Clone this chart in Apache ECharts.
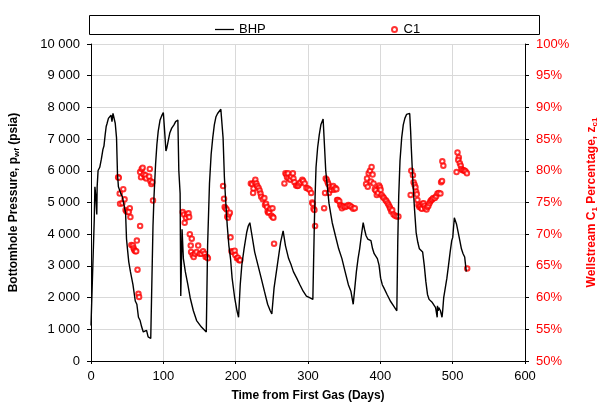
<!DOCTYPE html>
<html><head><meta charset="utf-8">
<script src="https://cdn.jsdelivr.net/npm/echarts@6/dist/echarts.min.js"></script>
<style>html,body{margin:0;padding:0;background:#fff}#c{width:607px;height:407px}</style>
</head><body><div id="c"></div>
<script>
// BHP (psia) vs time (days)
const bhpDays = [0,2.7,4.5,5.4,6.7,8.0,8.5,9.8,12.1,14.3,16.5,17.9,19.6,21.0,22.3,24.1,26.3,27.7,29.0,30.4,32.1,33.5,35.3,36.6,37.9,41.1,43.3,45.5,47.8,49.1,50.4,52.2,54.5,58.0,61.2,63.4,65.6,67.9,70.1,72.3,74.6,76.8,79.0,81.3,82.6,83.9,85.7,87.1,89.3,91.1,92.9,95.5,98.2,100.0,101.8,103.6,104.9,107.1,108.9,111.6,114.7,117.0,118.3,120.1,121.4,123.2,124.1,125.9,127.7,130.4,133.9,137.1,141.5,146.0,152.7,159.4,159.9,161.2,163.8,166.1,168.3,170.5,172.8,175.0,177.2,179.5,180.8,182.6,184.4,186.1,188.4,190.6,192.9,195.1,198.6,201.8,204.0,206.3,208.5,211.6,215.2,217.4,219.6,221.9,226.3,230.8,235.3,239.7,244.2,247.8,250.0,253.1,257.6,262.1,265.6,268.8,273.2,276.8,279.8,284.4,288.8,293.3,297.8,302.2,306.7,308.0,308.9,309.8,311.1,313.3,315.6,317.8,320.9,322.7,324.5,326.8,329.0,331.2,333.5,335.7,337.9,342.4,346.9,351.3,355.8,359.3,362.5,364.7,366.9,369.2,371.4,373.7,376.3,378.1,380.3,382.6,384.8,387.0,389.3,391.5,395.9,398.2,400.4,402.7,404.9,409.3,413.8,418.3,422.8,424.1,425.4,427.2,429.5,431.7,433.9,436.2,438.4,440.6,441.9,442.8,445.1,447.3,449.5,451.8,454.0,456.2,458.5,460.7,462.9,465.2,467.4,469.6,471.9,474.1,476.4,478.6,479.0,479.9,480.8,483.1,485.3,486.2,487.6,489.8,492.0,494.3,496.5,498.7,500.1,501.0,502.3,503.2,505.4,507.7,509.9,512.1,514.4,516.6,517.9,518.8];
const bhpValues = [1120,1170,4465,5494,5185,4619,5494,6008,6111,6368,6677,6780,7140,7397,7500,7654,7706,7757,7551,7809,7809,7500,7037,5905,5494,5288,5185,5185,4671,3848,3539,3128,2819,2407,1893,1790,1379,1276,1070,916,864,967,761,813,710,710,4259,5185,6214,6831,7243,7603,7757,7840,7243,6626,6728,6986,7191,7346,7449,7551,7603,7603,6008,5288,2047,4156,3230,2819,2407,1996,1584,1276,1070,916,885,3642,5597,6523,7037,7449,7706,7809,7860,7942,7984,7037,5802,5082,4259,3642,3230,2613,1996,1584,1379,2407,3025,3539,4053,4259,4362,4053,3436,3025,2613,2202,1790,1584,1481,2305,3025,3745,4105,3642,3230,3025,2819,2613,2407,2202,2047,1996,1944,1944,4465,5185,6111,6728,7140,7449,7634,6831,6008,5494,4979,4671,4362,4156,3951,3539,3230,2819,2407,2202,1790,2305,2819,3230,3539,3951,4362,4156,3951,3848,3848,3796,3539,3385,3230,3025,2613,2407,2305,2099,1893,1739,1584,3745,5185,6317,7037,7449,7654,7778,7840,7809,7243,6728,5597,4774,4053,3745,3539,3488,3436,3025,2510,2099,1944,1893,1842,1790,1687,1379,1739,1584,1687,1584,1379,1584,1996,2305,2613,3025,3436,3796,3899,4156,4516,4516,4311,4053,3796,3539,3385,3282,3230,2819];

// Wellstream C1 percentage vs time (days)
const c1Days = [37.5,38.4,39.7,44.6,40.2,43.3,46.4,47.8,49.1,50.9,53.6,52.2,54.5,55.8,58.0,58.9,59.8,61.2,62.5,63.4,64.3,65.6,66.5,67.9,67.9,69.2,70.1,71.4,72.8,74.6,75.4,76.3,81.3,80.4,82.1,83.5,84.8,85.7,126.8,128.6,129.5,131.3,133.0,134.8,135.7,136.6,137.9,139.3,138.4,140.6,142.0,143.8,146.0,148.2,150.4,152.7,154.9,157.1,158.5,160.3,161.6,182.6,183.9,184.8,186.1,187.5,188.4,189.3,190.6,191.9,192.9,194.2,196.0,198.6,199.5,201.8,203.1,204.9,206.3,221.0,222.8,224.6,224.1,226.3,227.2,228.6,229.9,231.7,233.1,234.4,235.3,237.5,239.7,240.6,242.0,243.3,244.2,245.1,246.4,247.8,249.6,251.4,252.2,253.1,250.9,267.4,268.8,270.1,271.0,272.4,273.2,275.5,276.8,279.1,279.9,281.3,283.6,285.4,286.7,288.0,289.8,292.1,293.3,295.5,297.8,300.0,302.2,304.4,305.8,306.7,307.6,308.9,309.8,322.3,323.6,324.5,325.9,327.2,328.1,329.0,330.3,332.1,333.5,334.8,336.1,337.9,339.3,340.2,341.5,343.3,344.6,346.0,346.9,349.1,351.3,353.6,355.8,358.0,360.3,362.5,364.7,380.3,381.6,382.6,383.9,385.7,387.9,389.3,387.0,390.6,392.4,393.7,395.1,396.9,398.2,399.5,400.4,401.8,403.5,404.9,407.2,408.5,410.3,411.6,413.0,413.8,415.2,416.5,418.3,420.5,422.8,425.0,441.9,442.8,445.1,446.0,447.3,448.6,449.5,450.4,451.3,452.7,454.0,455.3,456.7,457.6,458.5,459.8,461.2,462.0,463.9,465.2,466.5,467.9,469.2,470.5,471.9,473.2,475.4,477.2,479.0,480.8,483.1,484.0,485.3,485.7,487.1,505.4,506.7,508.5,507.7,509.9,511.2,512.1,513.5,515.3,516.6,517.9,519.7,520.1];
const c1Values = [79.0,78.9,76.4,77.1,74.8,74.9,75.5,73.8,73.6,73.6,74.1,73.5,72.7,68.3,68.2,67.8,67.5,67.3,67.3,69.0,64.4,60.6,60.1,71.3,79.8,79.0,80.3,80.5,79.4,79.0,79.3,78.8,80.3,79.1,78.4,77.9,78.2,75.3,73.5,73.1,71.8,72.6,73.1,73.3,72.7,70.0,68.2,69.3,67.2,66.7,66.4,66.9,67.2,68.2,66.9,66.9,67.3,66.9,66.4,66.4,66.2,77.6,75.6,74.3,74.1,73.9,72.8,72.6,73.1,73.4,69.5,67.3,67.2,67.4,66.7,66.2,66.3,65.9,65.9,78.0,77.9,77.2,76.5,78.2,78.6,78.0,77.6,77.3,76.9,76.4,75.9,75.5,75.7,74.6,74.8,74.3,73.6,73.4,73.5,74.0,72.9,72.7,72.6,68.5,74.1,78.0,79.6,79.4,79.0,79.6,78.8,78.6,79.1,79.6,78.8,78.2,77.7,77.6,77.7,78.0,78.2,78.6,78.4,78.0,77.3,77.2,77.0,76.5,75.0,74.8,74.0,73.8,71.3,74.1,76.5,78.8,78.6,78.2,77.9,76.5,77.5,77.0,77.4,77.6,77.0,77.3,77.1,75.4,75.4,75.2,74.6,74.4,74.1,74.4,74.3,74.4,74.6,74.5,74.3,74.0,74.1,77.9,78.8,77.5,79.6,80.0,80.6,79.4,78.3,78.0,77.1,76.9,76.2,76.5,77.7,77.4,77.0,76.2,75.9,75.7,75.4,75.2,74.9,74.6,74.3,74.0,73.6,73.8,73.1,72.9,72.8,72.8,76.2,80.0,79.3,78.2,77.8,77.4,76.7,76.3,75.4,74.6,74.3,74.4,74.1,74.0,74.8,74.9,74.5,74.1,73.9,74.3,74.5,74.9,75.2,75.4,75.5,75.7,75.7,76.0,76.4,76.5,76.4,78.2,78.4,81.5,80.8,79.8,82.9,82.1,81.7,81.2,80.8,80.3,80.1,80.1,80.0,79.9,79.6,64.6];

const xTicks = {min: 0, max: 600, interval: 100};
const yLeftTicks = {min: 0, max: 10000, interval: 1000};
const yRightTicks = {min: 50, max: 100, interval: 5};

const bhpData = bhpDays.map((d, i) => [d, bhpValues[i]]);
const c1Data = c1Days.map((d, i) => [d, c1Values[i]]);

const FONT = 'Liberation Sans, Arial, sans-serif';
const RED = '#ff0000';
const legendText = {fontFamily: FONT, fontSize: 13, color: '#000'};
const chart = echarts.init(document.getElementById('c'), null, {renderer: 'canvas'});
chart.setOption({
  animation: false,
  backgroundColor: '#fff',
  textStyle: {fontFamily: FONT},
  graphic: [{
    type: 'rect', z: -1,
    shape: {x: 89.5, y: 15.5, width: 450, height: 19},
    style: {fill: '#fff', stroke: '#000', lineWidth: 1}
  }],
  legend: [{
    top: 18, left: 210, itemWidth: 19, itemHeight: 10, itemGap: 0,
    textStyle: legendText,
    data: [{name: 'BHP', icon: 'path://M0,0H24V1.6H0Z'}]
  }, {
    top: 18, left: 386, itemWidth: 8, itemHeight: 5, itemGap: 0,
    textStyle: legendText,
    data: [{name: 'C1', icon: 'emptyCircle'}]
  }],
  grid: {left: 91, right: 68, top: 44, bottom: 40, containLabel: false},
  xAxis: {
    type: 'value', min: xTicks.min, max: xTicks.max, interval: xTicks.interval,
    name: 'Time from First Gas (Days)', nameLocation: 'middle', nameGap: 29,
    nameTextStyle: {fontFamily: FONT, fontSize: 12, fontWeight: 'bold', color: '#000'},
    axisLine: {lineStyle: {color: '#000', width: 1}},
    axisTick: {show: true, length: 3, lineStyle: {color: '#000'}},
    axisLabel: {fontFamily: FONT, fontSize: 13, color: '#000', margin: 9},
    splitLine: {show: true, lineStyle: {color: '#d9d9d9', width: 1}}
  },
  yAxis: [{
    type: 'value', min: yLeftTicks.min, max: yLeftTicks.max, interval: yLeftTicks.interval,
    position: 'left',
    name: '{t|Bottomhole Pressure, p}{s|wf}{t| (psia)}', nameLocation: 'middle', nameGap: 70,
    nameRotate: 90,
    nameTextStyle: {rich: {
      t: {fontFamily: FONT, fontSize: 12, fontWeight: 'bold', color: '#000'},
      s: {fontFamily: FONT, fontSize: 8, fontWeight: 'bold', color: '#000', padding: [6, 0, 0, 0]}
    }},
    axisLine: {show: true, lineStyle: {color: '#000', width: 1}},
    axisTick: {show: true, length: 4, lineStyle: {color: '#000'}},
    axisLabel: {fontFamily: FONT, fontSize: 13, color: '#000', margin: 11,
      formatter: v => String(v).replace(/\B(?=(\d{3})+(?!\d))/g, ' ')},
    splitLine: {show: true, lineStyle: {color: '#d9d9d9', width: 1}}
  }, {
    type: 'value', min: yRightTicks.min, max: yRightTicks.max, interval: yRightTicks.interval,
    position: 'right',
    name: '{t|Wellstream C}{s|1}{t| Percentage, z}{s|c1}', nameLocation: 'middle', nameGap: 60,
    nameRotate: 90,
    nameTextStyle: {rich: {
      t: {fontFamily: FONT, fontSize: 12, fontWeight: 'bold', color: RED},
      s: {fontFamily: FONT, fontSize: 8, fontWeight: 'bold', color: RED, padding: [6, 0, 0, 0]}
    }},
    axisLine: {show: true, lineStyle: {color: '#000', width: 1}},
    axisTick: {show: true, length: 4, lineStyle: {color: '#000'}},
    axisLabel: {fontFamily: FONT, fontSize: 13, color: RED, margin: 11, formatter: '{value}%'},
    splitLine: {show: false}
  }],
  series: [{
    name: 'BHP', type: 'line', yAxisIndex: 0, data: bhpData,
    symbol: 'none', showSymbol: false,
    lineStyle: {color: '#000', width: 1.4}, itemStyle: {color: '#000'}
  }, {
    name: 'C1', type: 'scatter', yAxisIndex: 1, data: c1Data,
    symbol: 'emptyCircle', symbolSize: 4.5,
    itemStyle: {color: RED, borderColor: RED, borderWidth: 1}
  }]
});
</script></body></html>
